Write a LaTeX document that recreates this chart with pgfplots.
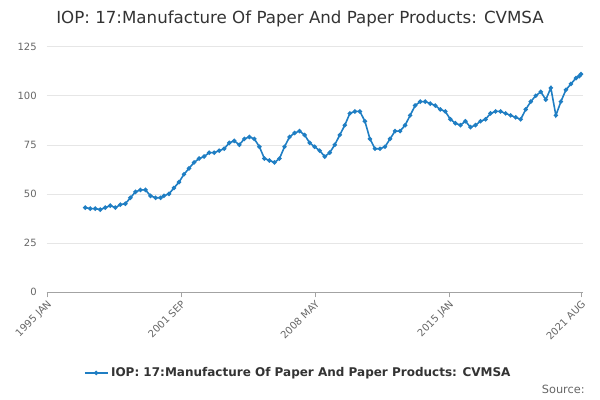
\documentclass[border=0pt]{standalone}
\usepackage{pgfplots}
\pgfplotsset{compat=1.18}
\usepackage{fontspec}
\setmainfont{DejaVu Sans}
\definecolor{ln}{HTML}{1F7EC3}
\definecolor{gr}{HTML}{E6E6E6}
\definecolor{tx}{HTML}{666666}
\definecolor{dk}{HTML}{333333}
\begin{document}
\begin{tikzpicture}
\path[use as bounding box] (-35pt,-81pt) rectangle (415pt,219pt);
\begin{axis}[
  at={(0,0)}, anchor=south west, scale only axis,
  width=402pt, height=184pt,
  xmin=0, xmax=320, ymin=0, ymax=125,
  xtick={0,80,160,240,319},
  xticklabels={1995 JAN,2001 SEP,2008 MAY,2015 JAN,2021 AUG},
  xticklabel style={rotate=45, anchor=north east, inner sep=1pt, font=\fontsize{7.5}{9}\selectfont, text=tx},
  ytick={0,25,50,75,100,125},
  yticklabel style={font=\fontsize{7.5}{9}\selectfont, text=tx},
  /pgf/number format/assume math mode=true,
  ymajorgrids, grid style={gr},
  axis x line*=bottom, axis y line*=left,
  y axis line style={draw=none},
  x axis line style={tx!60},
  xtick style={tx!60}, tick align=outside, major tick length=4pt,
  ytick style={draw=none},
  legend style={at={(0.47,-0.33)}, anchor=center, draw=none, text=dk, font=\bfseries\fontsize{9}{10}\selectfont},
  legend cell align=left,
]
\addplot[ln, line width=1.2pt, mark=*, mark size=1pt] coordinates {
(23,43)(26,42.5)(29,42.5)(32,42)(35,43)(38,44)(41,43)(44,44.5)(47,45)(50,48)(53,51)(56,52)(59,52)(62,49)(65,48)(68,48)(70,49)(73,50)(76,53)(79,56)(82,60)(85,63)(88,66)(91,68)(94,69)(97,71)(100,71)(103,72)(106,73)(109,76)(112,77)(115,75)(118,78)(121,79)(124,78)(127,74)(130,68)(133,67)(136,66)(139,68)(142,74)(145,79)(148,81)(151,82)(154,80)(157,76)(160,74)(163,72)(166,69)(169,71)(172,75)(175,80)(178,85)(181,91)(184,92)(187,92)(190,87)(193,78)(196,73)(199,73)(202,74)(205,78)(208,82)(211,82)(214,85)(217,90)(220,95)(223,97)(226,97)(229,96)(232,95)(235,93)(238,92)(241,88)(244,86)(247,85)(250,87)(253,84)(256,85)(259,87)(262,88)(265,91)(268,92)(271,92)(274,91)(277,90)(280,89)(283,88)(286,93)(289,97)(292,100)(295,102)(298,98)(301,104)(304,90)(307,97)(310,103)(313,106)(316,109)(318,110)(319,111)
};
\addlegendentry{IOP: 17:Manufacture Of Paper And Paper Products: CVMSA}
\end{axis}
\node[font=\fontsize{12.5}{14}\selectfont, text=dk] at (190pt,205pt) {IOP: 17:Manufacture Of Paper And Paper Products: CVMSA};
\node[anchor=east, font=\fontsize{8.5}{10}\selectfont, text=tx] at (407pt,-73pt) {Source:};
\end{tikzpicture}
\end{document}
